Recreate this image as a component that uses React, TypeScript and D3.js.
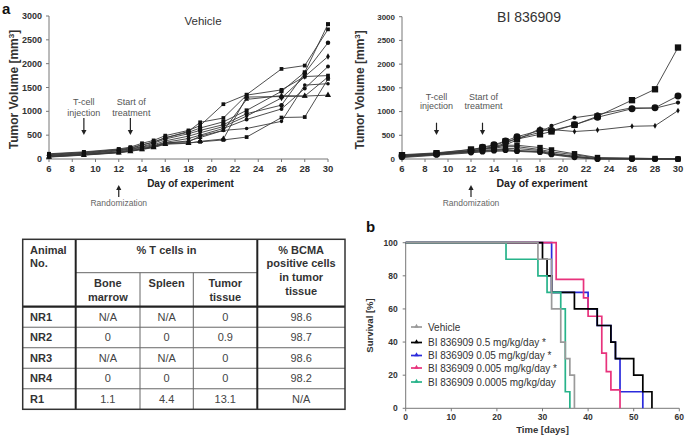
import React from 'react';
import * as d3 from 'd3';

const FONT = '"Liberation Sans", Arial, Helvetica, sans-serif';

// ---------- Tumor growth data (panel a) ----------
const days = [6, 9, 12, 13, 14, 15, 16, 18, 19, 21, 23, 26, 28, 30];

const veh1 = [100, 140, 200, 230, 300, 350, 450, 560, 650, 780, 1020, 1420, 1820, 2830];
const veh2 = [110, 150, 210, 250, 330, 390, 490, 600, 700, 1150, 1350, 1890, 1960, 2720];
const veh3 = [80, 120, 180, 210, 260, 330, 420, 530, 600, 720, 950, 1130, 1800, 2440];
const veh4 = [70, 110, 170, 200, 250, 300, 380, 480, 550, 680, 900, 1280, 1730, 2150];
const veh5 = [60, 100, 150, 190, 230, 280, 350, 430, 500, 640, 830, 1050, 1480, 1940];
const veh6 = [90, 130, 190, 220, 290, 360, 440, 580, 770, 860, 1340, 1450, 1730, 1750];
const veh7 = [50, 90, 140, 170, 210, 260, 330, 380, 450, 600, 1250, 1330, 1320, 1720];
const veh8 = [40, 80, 130, 160, 200, 240, 310, 330, 370, 420, 1300, 1310, 1320, 1340];
const veh9 = [45, 85, 135, 165, 205, 250, 320, 340, 360, 400, 460, 870, 880, 1680];
const veh10 = [55, 95, 145, 175, 215, 265, 340, 360, 480, 600, 640, 790, 1550, 1580];
const vehicleSeries = [veh1, veh2, veh3, veh4, veh5, veh6, veh7, veh8, veh9, veh10];

const bi1 = [80, 120, 200, 240, 280, 370, 420, 520, 580, 720, 900, 1240, 1470, 2350];
const bi2 = [70, 110, 180, 250, 300, 380, 470, 600, 600, 720, 880, 1060, 1080, 1330];
const bi3 = [60, 100, 170, 200, 260, 330, 440, 560, 700, 870, 940, 1080, 1070, 1190];
const bi4 = [50, 100, 160, 210, 250, 300, 400, 640, 620, 580, 610, 690, 700, 1020];
const bi5 = [90, 130, 200, 220, 250, 290, 290, 240, 190, 110, 30, 20, 10, 0];
const bi6 = [60, 110, 170, 200, 230, 260, 260, 200, 150, 90, 20, 10, 5, 0];
const bi7 = [50, 100, 160, 180, 200, 220, 220, 180, 120, 60, 10, 5, 0, 0];
const bi8 = [40, 90, 140, 160, 180, 190, 170, 150, 100, 40, 0, 0, 0, 0];
const bi9 = [70, 120, 150, 170, 190, 200, 180, 160, 110, 50, 5, 0, 0, 0];
const bi10 = [30, 80, 130, 150, 160, 170, 160, 140, 90, 30, 0, 0, 0, 0];
const biSeries = [bi1, bi2, bi3, bi4, bi5, bi6, bi7, bi8, bi9, bi10];

const xTicksA = [6, 8, 10, 12, 14, 16, 18, 20, 22, 24, 26, 28, 30];
const yTicksA = [0, 500, 1000, 1500, 2000, 2500, 3000];

// ---------- Survival data (panel b) ----------
const survLabels = [
  'Vehicle',
  'BI 836909 0.5 mg/kg/day *',
  'BI 836909 0.05 mg/kg/day *',
  'BI 836909 0.005 mg/kg/day *',
  'BI 836909 0.0005 mg/kg/day',
];
const survVehicleT = [0, 29, 32, 34, 35, 36, 37];
const survVehicleS = [100, 90, 60, 40, 30, 20, 0];
const surv05T = [0, 30, 31, 32, 37, 42, 45, 46, 50, 52, 54];
const surv05S = [100, 90, 80, 70, 60, 50, 40, 30, 20, 10, 0];
const surv005T = [0, 32, 40, 42, 45, 46, 47, 52];
const surv005S = [100, 70, 60, 50, 40, 30, 10, 0];
const surv0005T = [0, 33, 39, 40, 43, 44, 45, 47];
const surv0005S = [100, 77.8, 66.7, 55.6, 33.3, 22.2, 11.1, 0];
const surv00005T = [0, 22, 29, 31, 34, 35, 36];
const surv00005S = [100, 90, 80, 70, 60, 10, 0];
const survColors = ['#9a9a9a', '#000000', '#2b2bdc', '#e8327c', '#27b38a'];
const xTicksB = [0, 10, 20, 30, 40, 50, 60];
const yTicksB = [0, 20, 40, 60, 80, 100];

// ---------- Table data ----------
const tableAnimals = ['NR1', 'NR2', 'NR3', 'NR4', 'R1'];
const tableBone = ['N/A', '0', 'N/A', '0', '1.1'];
const tableSpleen = ['N/A', '0', 'N/A', '0', '4.4'];
const tableTumor = ['0', '0.9', '0', '0', '13.1'];
const tableBcma = ['98.6', '98.7', '98.6', '98.2', 'N/A'];

const vehSymbols = [
  d3.symbolSquare, d3.symbolSquare, d3.symbolCircle, d3.symbolDiamond, d3.symbolCircle,
  d3.symbolSquare, d3.symbolTriangle, d3.symbolTriangle, d3.symbolSquare, d3.symbolCircle,
];
const biSymbols = [
  d3.symbolSquare, d3.symbolCircle, d3.symbolCircle, d3.symbolDiamond, d3.symbolSquare,
  d3.symbolCircle, d3.symbolSquare, d3.symbolCircle, d3.symbolTriangle, d3.symbolCircle,
];
const vehSizes = [16, 14, 16, 12, 12, 14, 10, 16, 14, 10];
const biSizes = [40, 38, 14, 10, 30, 16, 14, 30, 12, 10];

type PanelProps = {
  x0: number; x1: number; yTop: number; yBot: number;
  series: number[][]; sizes: number[]; symbols: d3.SymbolType[];
  title: string; titleX: number; titleY: number; titleSize: number;
  yTickSize: number; yLabelX: number; xLabelSize: number;
  annTop1: number; annTop2: number; arrowTop: number;
};

function Arrow({ x, y1, y2 }: { x: number; y1: number; y2: number }) {
  const dir = y2 > y1 ? 1 : -1;
  return (
    <g>
      <line x1={x} x2={x} y1={y1} y2={y2 - dir * 3} stroke="#222" strokeWidth={1.2} />
      <path d={`M${x - 2.6},${y2 - dir * 5} L${x + 2.6},${y2 - dir * 5} L${x},${y2} Z`} fill="#222" />
    </g>
  );
}

function TumorPanel(p: PanelProps) {
  const x = d3.scaleLinear().domain([6, 30]).range([p.x0, p.x1]);
  const y = d3.scaleLinear().domain([0, 3000]).range([p.yBot, p.yTop]);
  const line = d3.line<number>().x((_, i) => x(days[i])).y((v) => y(v));
  const axisColor = '#777';
  return (
    <g fontFamily={FONT}>
      <line x1={p.x0} x2={p.x0} y1={p.yTop} y2={p.yBot} stroke={axisColor} strokeWidth={1} />
      {yTicksA.map((t) => (
        <g key={'y' + t}>
          <line x1={p.x0 - 3} x2={p.x0} y1={y(t)} y2={y(t)} stroke={axisColor} />
          <text x={p.x0 - 7} y={y(t)} dy="0.35em" textAnchor="end" fontSize={p.yTickSize} fontWeight="bold" fill="#333">{t}</text>
        </g>
      ))}
      <line x1={p.x0} x2={p.x1} y1={p.yBot} y2={p.yBot} stroke={axisColor} strokeWidth={1} />
      {xTicksA.map((t) => (
        <g key={'x' + t}>
          <line x1={x(t)} x2={x(t)} y1={p.yBot} y2={p.yBot + 3} stroke={axisColor} />
          <text x={x(t)} y={p.yBot + 10} dy="0.35em" textAnchor="middle" fontSize={9.5} fontWeight="bold" fill="#333">{t}</text>
        </g>
      ))}
      <text x={(p.x0 + p.x1) / 2 + 2} y={p.yBot + 24.5} dy="0.35em" textAnchor="middle" fontSize={p.xLabelSize} fontWeight="bold" fill="#222">Day of experiment</text>
      <text transform={`translate(${p.yLabelX},${(p.yTop + p.yBot) / 2 + 2}) rotate(-90)`} dy="0.35em" textAnchor="middle" fontSize={12} fontWeight="bold" fill="#333">
        Tumor Volume [mm<tspan dy="-4" fontSize={8}>3</tspan><tspan dy="4">]</tspan>
      </text>
      <text x={p.titleX} y={p.titleY} dy="0.35em" textAnchor="middle" fontSize={p.titleSize} fill="#333">{p.title}</text>
      {p.series.map((s, i) => (
        <path key={'l' + i} d={line(s) || ''} fill="none" stroke="#3a3a3a" strokeWidth={0.9} />
      ))}
      {p.series.map((s, i) =>
        s.map((v, j) => (
          <path key={`m${i}-${j}`} transform={`translate(${x(days[j])},${y(v)})`}
            d={d3.symbol().type(p.symbols[i]).size(p.sizes[i])() || ''} fill="#111" />
        ))
      )}
      <text x={x(9)} y={p.annTop1} dy="0.35em" textAnchor="middle" fontSize={9} fill="#555">T-cell</text>
      <text x={x(9)} y={p.annTop2} dy="0.35em" textAnchor="middle" fontSize={9} fill="#555">injection</text>
      <text x={x(13) + 1} y={p.annTop1} dy="0.35em" textAnchor="middle" fontSize={9} fill="#555">Start of</text>
      <text x={x(13) + 1} y={p.annTop2} dy="0.35em" textAnchor="middle" fontSize={9} fill="#555">treatment</text>
      <Arrow x={x(9)} y1={p.arrowTop} y2={135} />
      <Arrow x={x(13)} y1={p.arrowTop} y2={135} />
      <Arrow x={x(12)} y1={197} y2={185} />
      <text x={x(12)} y={203.5} dy="0.35em" textAnchor="middle" fontSize={8.5} fill="#666">Randomization</text>
    </g>
  );
}

function SurvivalPanel() {
  const x = d3.scaleLinear().domain([0, 60]).range([405.7, 679.3]);
  const y = d3.scaleLinear().domain([0, 100]).range([408.3, 242.7]);
  const line = d3.line<[number, number]>().x((d) => x(d[0])).y((d) => y(d[1])).curve(d3.curveStepAfter);
  const curves: [number[], number[]][] = [
    [surv005T, surv005S],
    [surv0005T, surv0005S],
    [surv05T, surv05S],
    [surv00005T, surv00005S],
    [survVehicleT, survVehicleS],
  ];
  const colorIdx = [2, 3, 1, 4, 0];
  const axisColor = '#777';
  const legendY = [327, 342.5, 355.5, 368, 382];
  return (
    <g fontFamily={FONT}>
      <text x={366} y={232} fontSize={15} fontWeight="bold" fill="#111">b</text>
      <line x1={x(0)} x2={x(0)} y1={y(100)} y2={y(0)} stroke={axisColor} />
      {yTicksB.map((t) => (
        <g key={'y' + t}>
          <line x1={x(0) - 3} x2={x(0)} y1={y(t)} y2={y(t)} stroke={axisColor} />
          <text x={x(0) - 8} y={y(t)} dy="0.35em" textAnchor="end" fontSize={8.5} fontWeight="bold" fill="#333">{t}</text>
        </g>
      ))}
      <line x1={x(0)} x2={x(60)} y1={y(0)} y2={y(0)} stroke={axisColor} />
      {xTicksB.map((t) => (
        <g key={'x' + t}>
          <line x1={x(t)} x2={x(t)} y1={y(0)} y2={y(0) + 3} stroke={axisColor} />
          <text x={x(t)} y={y(0) + 8.5} dy="0.35em" textAnchor="middle" fontSize={8.5} fontWeight="bold" fill="#333">{t}</text>
        </g>
      ))}
      <text x={(x(0) + x(60)) / 2} y={429.5} dy="0.35em" textAnchor="middle" fontSize={9.5} fontWeight="bold" fill="#333">Time [days]</text>
      <text transform={`translate(370,${(y(0) + y(100)) / 2}) rotate(-90)`} dy="0.35em" textAnchor="middle" fontSize={9.5} fontWeight="bold" fill="#333">Survival [%]</text>
      {curves.map(([ts, ss], i) => {
        const pts: [number, number][] = ts.map((t, k) => [t, ss[k]]);
        return <path key={'c' + i} d={line(pts) || ''} fill="none" stroke={survColors[colorIdx[i]]} strokeWidth={1.7} />;
      })}
      {survLabels.map((lab, i) => (
        <g key={'lg' + i}>
          <line x1={411} x2={422} y1={legendY[i]} y2={legendY[i]} stroke={survColors[i]} strokeWidth={1.7} />
          <path transform={`translate(416.5,${legendY[i] - 0.5})`} d={d3.symbol().type(d3.symbolTriangle).size(9)() || ''} fill={survColors[i]} />
          <text x={428} y={legendY[i]} dy="0.35em" fontSize={10} fill="#333">{lab}</text>
        </g>
      ))}
    </g>
  );
}

function DataTable() {
  const cols = [22.7, 75.7, 140, 193.3, 257.3, 345];
  const top = 239.3;
  const mid = 272.7;
  const head = 306.7;
  const rowH = (409.3 - head) / 5;
  const rows = d3.range(6).map((i) => head + i * rowH);
  const thin = '#666';
  const c = (i: number) => (cols[i] + cols[i + 1]) / 2;
  return (
    <g fontFamily={FONT} fill="#333">
      <line x1={cols[1]} x2={cols[4]} y1={mid} y2={mid} stroke={thin} strokeWidth={1} />
      {rows.slice(1, 5).map((ry, i) => (
        <line key={'r' + i} x1={cols[0]} x2={cols[5]} y1={ry} y2={ry} stroke={thin} strokeWidth={1} />
      ))}
      <line x1={cols[2]} x2={cols[2]} y1={mid} y2={rows[5]} stroke={thin} strokeWidth={1} />
      <line x1={cols[3]} x2={cols[3]} y1={mid} y2={rows[5]} stroke={thin} strokeWidth={1} />
      <line x1={cols[1]} x2={cols[1]} y1={top} y2={rows[5]} stroke="#222" strokeWidth={2} />
      <line x1={cols[4]} x2={cols[4]} y1={top} y2={rows[5]} stroke="#222" strokeWidth={2} />
      <line x1={cols[0]} x2={cols[5]} y1={head} y2={head} stroke="#222" strokeWidth={2.2} />
      <rect x={cols[0]} y={top} width={cols[5] - cols[0]} height={rows[5] - top} fill="none" stroke="#333" strokeWidth={1.5} />
      <text x={30} y={250} dy="0.35em" fontSize={11} fontWeight="bold">Animal</text>
      <text x={30} y={263.5} dy="0.35em" fontSize={11} fontWeight="bold">No.</text>
      <text x={(cols[1] + cols[4]) / 2} y={250} dy="0.35em" fontSize={11} fontWeight="bold" textAnchor="middle">% T cells in</text>
      <text x={c(1)} y={283.5} dy="0.35em" fontSize={11} fontWeight="bold" textAnchor="middle">Bone</text>
      <text x={c(1)} y={297.3} dy="0.35em" fontSize={11} fontWeight="bold" textAnchor="middle">marrow</text>
      <text x={c(2)} y={283.5} dy="0.35em" fontSize={11} fontWeight="bold" textAnchor="middle">Spleen</text>
      <text x={c(3)} y={283.5} dy="0.35em" fontSize={11} fontWeight="bold" textAnchor="middle">Tumor</text>
      <text x={c(3)} y={297.3} dy="0.35em" fontSize={11} fontWeight="bold" textAnchor="middle">tissue</text>
      {['% BCMA', 'positive cells', 'in tumor', 'tissue'].map((t, i) => (
        <text key={'bh' + i} x={c(4)} y={250 + i * 13.6} dy="0.35em" fontSize={11} fontWeight="bold" textAnchor="middle">{t}</text>
      ))}
      {tableAnimals.map((a, i) => {
        const cy = rows[i] + rowH / 2;
        return (
          <g key={'row' + i}>
            <text x={30} y={cy} dy="0.35em" fontSize={11} fontWeight="bold">{a}</text>
            <text x={c(1)} y={cy} dy="0.35em" fontSize={11} textAnchor="middle" fill="#444">{tableBone[i]}</text>
            <text x={c(2)} y={cy} dy="0.35em" fontSize={11} textAnchor="middle" fill="#444">{tableSpleen[i]}</text>
            <text x={c(3)} y={cy} dy="0.35em" fontSize={11} textAnchor="middle" fill="#444">{tableTumor[i]}</text>
            <text x={c(4)} y={cy} dy="0.35em" fontSize={11} textAnchor="middle" fill="#444">{tableBcma[i]}</text>
          </g>
        );
      })}
    </g>
  );
}

export default function App() {
  return (
    <svg width={685} height={444} style={{ position: 'absolute', left: 0, top: 0, background: '#fff' }}>
      <rect x={0} y={0} width={685} height={444} fill="#fff" />
      <text x={2} y={14} fontFamily={FONT} fontSize={15} fontWeight="bold" fill="#111">a</text>
      <TumorPanel x0={49} x1={328} yTop={16} yBot={159} series={vehicleSeries} sizes={vehSizes} symbols={vehSymbols}
        title="Vehicle" titleX={203} titleY={21} titleSize={11.5} yTickSize={9} yLabelX={14}
        xLabelSize={10} annTop1={101.7} annTop2={113.3} arrowTop={118} />
      <TumorPanel x0={402} x1={678} yTop={16.7} yBot={159} series={biSeries} sizes={biSizes} symbols={biSymbols}
        title="BI 836909" titleX={529} titleY={17} titleSize={14} yTickSize={8} yLabelX={360}
        xLabelSize={10.5} annTop1={96.7} annTop2={106} arrowTop={122.7} />
      <DataTable />
      <SurvivalPanel />
    </svg>
  );
}
